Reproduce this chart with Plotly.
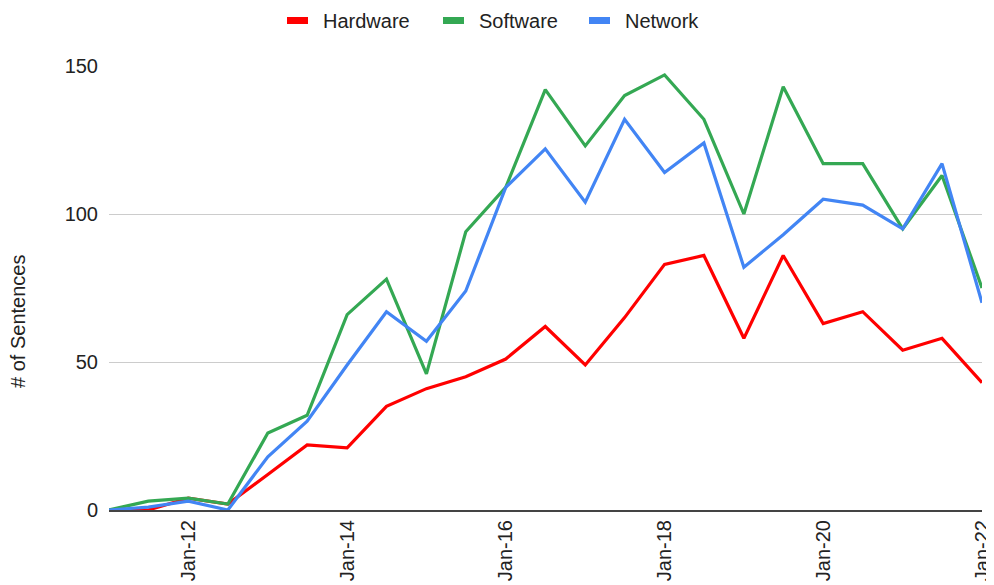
import plotly.graph_objects as go

dates = [
    "2011-01-01", "2011-07-01", "2012-01-01", "2012-07-01", "2013-01-01", "2013-07-01",
    "2014-01-01", "2014-07-01", "2015-01-01", "2015-07-01", "2016-01-01", "2016-07-01",
    "2017-01-01", "2017-07-01", "2018-01-01", "2018-07-01", "2019-01-01", "2019-07-01",
    "2020-01-01", "2020-07-01", "2021-01-01", "2021-07-01", "2022-01-01",
]
hardware = [0, 0, 4, 2, 12, 22, 21, 35, 41, 45, 51, 62, 49, 65, 83, 86, 58, 86, 63, 67, 54, 58, 43]
software = [0, 3, 4, 2, 26, 32, 66, 78, 46, 94, 109, 142, 123, 140, 147, 132, 100, 143, 117, 117, 95, 113, 75]
network = [0, 1, 3, 0, 18, 30, 49, 67, 57, 74, 109, 122, 104, 132, 114, 124, 82, 93, 105, 103, 95, 117, 70]

series_names = ["Hardware", "Software", "Network"]
series_colors = ["#ff0000", "#34a853", "#4285f4"]
y_ticks = [0, 50, 100, 150]
y_title = "# of Sentences"

FONT = "Liberation Sans, Arial, sans-serif"
TXT = "#222222"

# Page has an 8px body margin; size the figure so it ends at the window edge.
W, H = 986, 577
ML, MR, MT, MB = 101, 12, 58, 75
PW = W - ML - MR
PH = H - MT - MB

fig = go.Figure()
for name, vals, color in zip(series_names, [hardware, software, network], series_colors):
    fig.add_trace(go.Scatter(x=dates, y=vals, mode="lines", name=name,
                             line=dict(color=color, width=3.2), showlegend=False))

# screen-pixel -> paper coordinates helpers (for legend / title placement)
def px_x(sx):
    return (sx - 8 - ML) / PW

def px_y(sy):
    return (H - MB - (sy - 8)) / PH

legend_rect_x = [287, 443, 589]
legend_text_x = [321, 477, 623]
for name, color, rx, tx in zip(series_names, series_colors, legend_rect_x, legend_text_x):
    fig.add_shape(type="rect", xref="paper", yref="paper",
                  x0=px_x(rx), x1=px_x(rx + 21), y0=px_y(24), y1=px_y(17),
                  fillcolor=color, line=dict(width=0))
    fig.add_annotation(text=name, xref="paper", yref="paper", x=px_x(tx), y=px_y(21),
                       xanchor="left", yanchor="middle", showarrow=False,
                       font=dict(family=FONT, size=20, color=TXT))

fig.add_annotation(text=y_title, xref="paper", yref="paper", x=px_x(18), y=px_y(322),
                   xanchor="center", yanchor="middle", textangle=-90, showarrow=False,
                   font=dict(family=FONT, size=20, color=TXT))

fig.update_layout(
    width=W, height=H,
    margin=dict(l=ML, r=MR, t=MT, b=MB, autoexpand=False),
    paper_bgcolor="white", plot_bgcolor="white",
    font=dict(family=FONT, size=20, color=TXT),
    showlegend=False,
)
fig.update_xaxes(
    type="date", range=["2011-01-01", "2022-01-01"],
    tick0="2012-01-01", dtick="M24", tickformat="%b-%y", tickangle=-90,
    showgrid=False, showline=True, linecolor="#444444", linewidth=2,
    ticks="", automargin=False, tickfont=dict(family=FONT, size=20, color=TXT),
    ticklabelstandoff=0,
)
fig.update_yaxes(
    range=[0, 150], tickvals=y_ticks, showgrid=True, gridcolor="#cccccc", gridwidth=1,
    zeroline=False, showline=False, ticks="", automargin=False,
    tickfont=dict(family=FONT, size=20, color=TXT), ticklabelstandoff=10,
)

fig.write_html("out.html")
